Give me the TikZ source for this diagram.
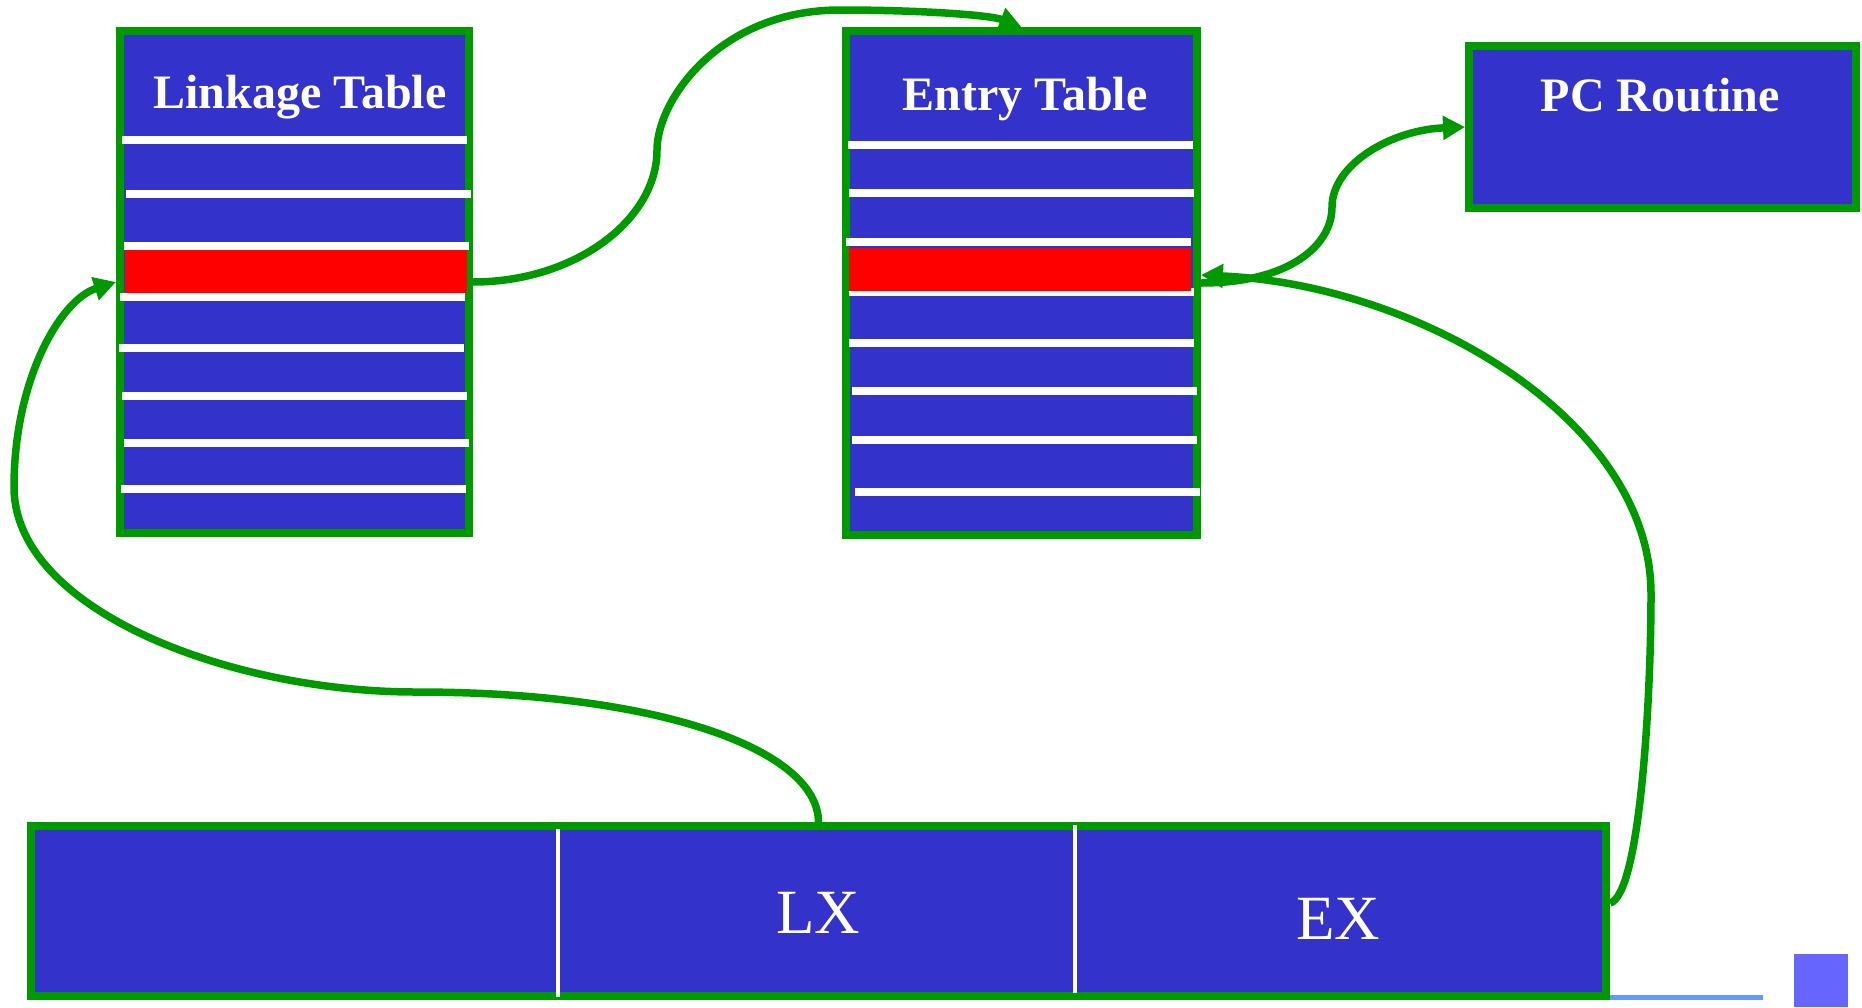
\documentclass[tikz,border=0pt]{standalone}
\usepackage{fontspec}
\setmainfont{Liberation Serif}
\usetikzlibrary{arrows.meta}
\definecolor{boxblue}{HTML}{3333CC}
\definecolor{boxgreen}{HTML}{009900}
\definecolor{rowred}{HTML}{FF0000}
\definecolor{lineblue}{HTML}{6699FF}
\definecolor{squareblue}{HTML}{6666FF}
\tikzset{
  tablebox/.style={draw=boxgreen, fill=boxblue, line width=8pt, inner sep=0pt, outer sep=4pt},
  rowline/.style={white, line width=8pt},
  redrow/.style={fill=rowred},
  divider/.style={white, line width=4pt},
  titletext/.style={text=white, font=\fontsize{48}{58}\selectfont\bfseries, inner sep=0pt, anchor=base},
  fieldtext/.style={text=white, font=\fontsize{63}{75}\selectfont, inner sep=0pt, anchor=base},
  link/.style={boxgreen, line width=7.5pt, -{Triangle[length=22pt,width=23pt]}},
}
\begin{document}
\begin{tikzpicture}[x=1pt,y=-1pt]
\useasboundingbox (0,0) rectangle (1862,1007);

% boxes
\node[tablebox, minimum width=349pt, minimum height=502pt] (lt) at (294.5,282) {};
\node[tablebox, minimum width=351pt, minimum height=504pt] (et) at (1021.5,283) {};
\node[tablebox, minimum width=387pt, minimum height=162pt] (pc) at (1662.5,127) {};
\node[tablebox, minimum width=1575pt, minimum height=170pt] (bar) at (818.5,911) {};

% Linkage table rows
\foreach \a/\b/\y in {122/467/140, 126/471/194, 124/469/246, 120/465/297, 119/464/348, 122/467/396, 124/469/443, 121/466/489}
  \draw[rowline] (\a,\y) -- (\b,\y);
\fill[redrow] (125,250) rectangle (467,293);

% Entry table rows
\foreach \a/\b/\y in {848/1193/145, 849/1194/193, 846/1191/242, 849/1194/292, 849/1194/343, 852/1197/391, 852/1197/440, 855/1200/492}
  \draw[rowline] (\a,\y) -- (\b,\y);
\fill[redrow] (849,248) rectangle (1191,291);

% bar dividers
\draw[divider] (558,829) -- (558,997);
\draw[divider] (1075,825) -- (1075,993);

% titles
\node[titletext] (ltt) at (300,108) {Linkage Table};
\node[titletext] (ett) at (1025,110) {Entry Table};
\node[titletext] (pct) at (1660,111) {PC Routine};
\node[fieldtext] (lx) at (818,933) {LX};
\node[fieldtext] (ex) at (1338,939) {EX};

% decoration bottom right
\fill[lineblue] (1610,994.5) rectangle (1763,999.5);
\fill[squareblue] (1794,954) rectangle (1848,1007);

% connectors
\draw[link] (lt.east) .. controls (575,282) and (657,220) .. (657,150)
  .. controls (657,100) and (720,10) .. (840,10)
  .. controls (920,10) and (990,15) .. (et.north);
\draw[link] (bar.north) .. controls (818,750) and (660,692) .. (416,692)
  .. controls (230,692) and (14,610) .. (14,487)
  .. controls (14,380) and (60,300) .. (lt.west);
\draw[link] ([yshift=8pt]bar.east) .. controls (1640,895) and (1651,700) .. (1651,594)
  .. controls (1651,420) and (1420,285) .. ([yshift=8pt]et.east);
\draw[link] (et.east) .. controls (1290,283) and (1332,245) .. (1332,207)
  .. controls (1332,165) and (1390,130) .. (pc.west);
\end{tikzpicture}
\end{document}
